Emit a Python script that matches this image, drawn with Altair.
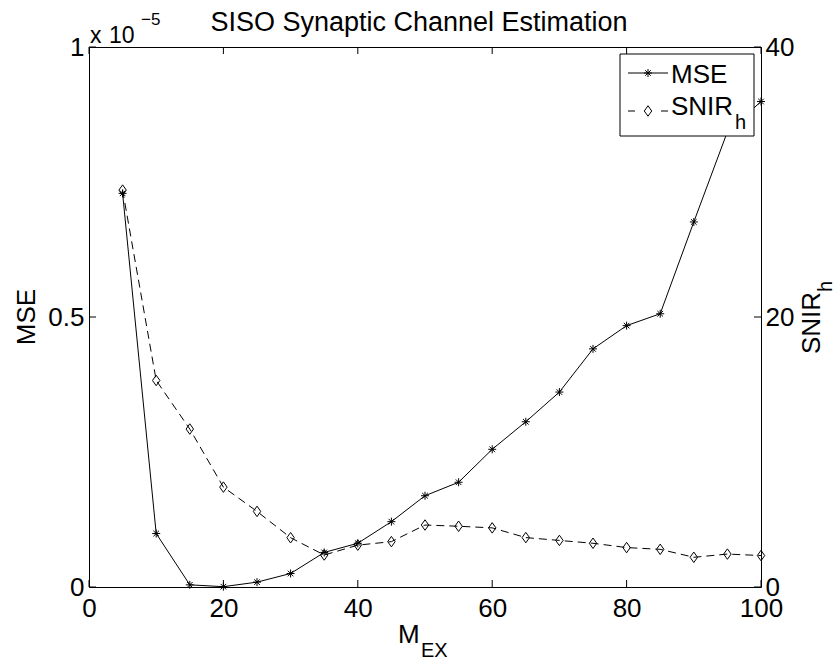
import altair as alt
import pandas as pd

# ---------------- data ----------------
m_ex = [5, 10, 15, 20, 25, 30, 35, 40, 45, 50, 55, 60, 65, 70, 75, 80, 85, 90, 95, 100]
mse_e5 = [0.729, 0.099, 0.004, 0.0006, 0.009, 0.025, 0.064, 0.081, 0.121, 0.169,
          0.194, 0.255, 0.306, 0.361, 0.441, 0.484, 0.506, 0.676, 0.843, 0.899]
snir_h = [29.4, 15.3, 11.7, 7.4, 5.6, 3.65, 2.37, 3.1, 3.36, 4.59,
          4.5, 4.38, 3.66, 3.45, 3.24, 2.92, 2.79, 2.2, 2.44, 2.33]
x_ticks = [0, 20, 40, 60, 80, 100]
mse_ticks = [0, 0.5, 1]
snir_ticks = [0, 20, 40]

FONT = "Liberation Sans"
W, H = 672, 540
TL = 7  # tick length

df = pd.DataFrame({"m": m_ex, "mse": mse_e5, "snir": snir_h})
one = pd.DataFrame({"k": [0]})

ASTER = "M-1,0L1,0M0,-1L0,1M-0.7,-0.7L0.7,0.7M-0.7,0.7L0.7,-0.7"
DIAM = "M0,-1L0.71,0L0,1L-0.71,0Z"

xs = alt.Scale(domain=[0, 100], nice=False, zero=False)
ys_mse = alt.Scale(domain=[0, 1], nice=False, zero=False)
ys_snir = alt.Scale(domain=[0, 40], nice=False, zero=False)

x_axis = alt.Axis(values=x_ticks, format="d", ticks=False, tickSize=0, domain=False, grid=False,
                  labelFontSize=26, labelFont=FONT, labelColor="black", labelPadding=8,
                  labelFlush=False, labelOverlap=False, title=None)
left_axis = alt.Axis(orient="left", values=mse_ticks, format="~g", ticks=False, tickSize=0,
                     domain=False, grid=False, labelFontSize=26, labelFont=FONT,
                     labelColor="black", labelPadding=5, labelOverlap=False, title=None)
right_axis = alt.Axis(orient="right", values=snir_ticks, format="d", ticks=False, tickSize=0,
                      domain=False, grid=False, labelFontSize=26, labelFont=FONT,
                      labelColor="black", labelPadding=4, labelOverlap=False, title=None)

base = alt.Chart(df)
X = alt.X("m:Q", scale=xs, axis=x_axis)

mse_line = base.mark_line(color="black", strokeWidth=1).encode(
    x=X, y=alt.Y("mse:Q", scale=ys_mse, axis=left_axis))
mse_pts = base.mark_point(shape=ASTER, filled=False, size=64, color="black",
                          strokeWidth=1, opacity=1).encode(
    x=X, y=alt.Y("mse:Q", scale=ys_mse, axis=left_axis))

snir_line = base.mark_line(color="black", strokeWidth=1, strokeDash=[8, 5]).encode(
    x=X, y=alt.Y("snir:Q", scale=ys_snir, axis=right_axis))
snir_pts = base.mark_point(shape=DIAM, filled=False, size=110, color="black",
                           strokeWidth=1, opacity=1).encode(
    x=X, y=alt.Y("snir:Q", scale=ys_snir, axis=right_axis))

xt_df = pd.DataFrame({"v": x_ticks})
xt_bot = alt.Chart(xt_df).mark_rule(color="black", strokeWidth=1).encode(
    x=alt.X("v:Q", scale=xs, axis=x_axis), y=alt.value(H), y2=alt.value(H - TL))
xt_top = alt.Chart(xt_df).mark_rule(color="black", strokeWidth=1).encode(
    x=alt.X("v:Q", scale=xs, axis=x_axis), y=alt.value(0), y2=alt.value(TL))
yl = alt.Chart(pd.DataFrame({"v": mse_ticks})).mark_rule(color="black", strokeWidth=1).encode(
    y=alt.Y("v:Q", scale=ys_mse, axis=left_axis), x=alt.value(0), x2=alt.value(TL))
yr = alt.Chart(pd.DataFrame({"v": snir_ticks})).mark_rule(color="black", strokeWidth=1).encode(
    y=alt.Y("v:Q", scale=ys_snir, axis=right_axis), x=alt.value(W - TL), x2=alt.value(W))

left_group = alt.layer(mse_line, mse_pts, yl, xt_bot, xt_top)
right_group = alt.layer(snir_line, snir_pts, yr)


def txt(s, x, y, size, angle=0, align="left", baseline="alphabetic"):
    return alt.Chart(one).mark_text(text=s, fontSize=size, font=FONT, color="black",
                                    align=align, baseline=baseline, angle=angle).encode(
        x=alt.value(x), y=alt.value(y))


# legend
leg_box = alt.Chart(one).mark_rect(fill="white", stroke="black", strokeWidth=1).encode(
    x=alt.value(531), x2=alt.value(665), y=alt.value(7), y2=alt.value(89))
leg_l1 = alt.Chart(one).mark_rule(color="black", strokeWidth=1).encode(
    x=alt.value(539), x2=alt.value(579), y=alt.value(26))
leg_p1 = alt.Chart(one).mark_point(shape=ASTER, filled=False, size=64, color="black",
                                   strokeWidth=1, opacity=1).encode(
    x=alt.value(559), y=alt.value(26))
leg_l2 = alt.Chart(one).mark_rule(color="black", strokeWidth=1, strokeDash=[7, 26]).encode(
    x=alt.value(539), x2=alt.value(579), y=alt.value(64))
leg_p2 = alt.Chart(one).mark_point(shape=DIAM, filled=False, size=110, color="black",
                                   strokeWidth=1, opacity=1).encode(
    x=alt.value(559), y=alt.value(64))

texts = [
    txt("SISO Synaptic Channel Estimation", 330, -16, 27, align="center"),
    txt("x", 1, -4, 23),
    txt("10", 20, -4, 23),
    txt("\u22125", 52, -22, 17),
    txt("MSE", -54, 270, 26, angle=270, align="center"),
    txt("SNIR", 731, 307, 26, angle=270, align="left"),
    txt("h", 743, 245, 20, angle=270, align="left"),
    txt("M", 309, 596, 26),
    txt("EX", 332, 610, 20),
    txt("MSE", 582, 36, 26),
    txt("SNIR", 582, 68, 26),
    txt("h", 646, 82, 20),
]

chart = alt.layer(
    left_group, right_group, leg_box, leg_l1, leg_p1, leg_l2, leg_p2, *texts
).resolve_scale(y="independent").properties(
    width=W, height=H,
    autosize=alt.AutoSizeParams(type="none"),
    padding={"left": 89, "top": 47, "right": 76, "bottom": 75},
    background="white",
).configure_view(stroke="black", strokeWidth=1)

chart.save("out.html", embed_options={"renderer": "svg", "actions": False})
